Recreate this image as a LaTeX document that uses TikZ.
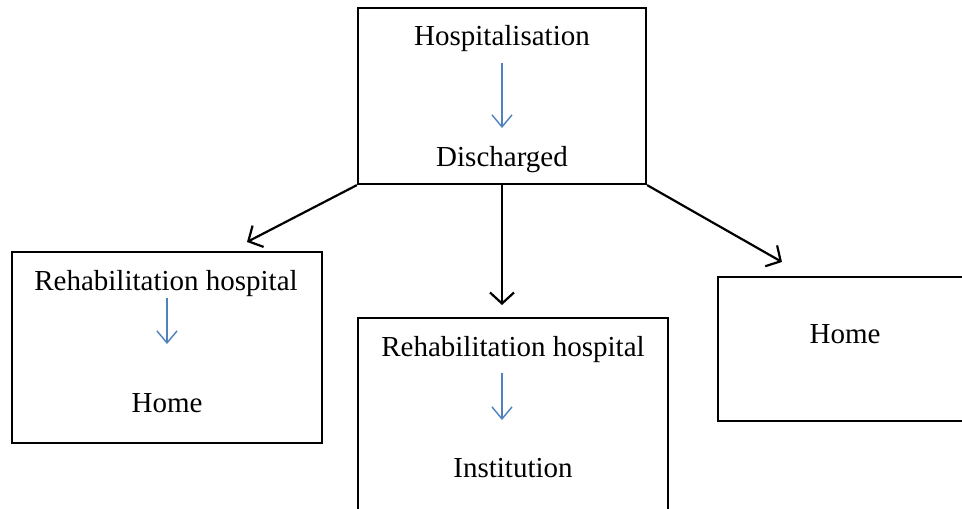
\documentclass[tikz,border=0pt]{standalone}
\usepackage{fontspec}
\setmainfont{Liberation Serif}
\usetikzlibrary{arrows.meta}
\definecolor{officeblue}{HTML}{4F81BD}
\tikzset{
  box/.style={draw=black, line width=2.2pt, rectangle, inner sep=0pt},
  lbl/.style={anchor=base, inner sep=0pt, font=\fontsize{29}{35}\selectfont},
  conn/.style={draw=black, line width=2.2pt, -{Straight Barb[length=11pt,width=24pt,line width=2.2pt]}},
  inner/.style={draw=officeblue, line width=1.4pt, -{Straight Barb[length=12pt,width=20pt,line width=1.4pt]}}
}
\begin{document}
\begin{tikzpicture}[x=1pt,y=-1pt]
\path[fill=white,use as bounding box] (0,0) rectangle (962,509);
% boxes
\node[box, minimum width=288pt, minimum height=176pt] (topbox) at (502,96) {};
\node[box, minimum width=310pt, minimum height=191pt] (leftbox) at (167,347.5) {};
\node[box, minimum width=310pt, minimum height=220pt] (midbox) at (513,428) {};
\node[box, minimum width=246pt, minimum height=144pt] (rightbox) at (841,349) {};
% labels
\node[lbl] (hosp) at (502,45) {Hospitalisation};
\node[lbl] (disch) at (502,166) {Discharged};
\node[lbl] (rehabL) at (166,290) {Rehabilitation hospital};
\node[lbl] (homeL) at (167,412) {Home};
\node[lbl] (rehabM) at (513,356) {Rehabilitation hospital};
\node[lbl] (inst) at (513,477) {Institution};
\node[lbl] (homeR) at (845,343) {Home};
% inner blue arrows
\coordinate (a1) at (502,63);
\coordinate (a2) at (502,128);
\coordinate (b1) at (167,298);
\coordinate (b2) at (167,344);
\coordinate (c1) at (502,373);
\coordinate (c2) at (502,420);
\draw[inner] (a1) -- (a2);
\draw[inner] (b1) -- (b2);
\draw[inner] (c1) -- (c2);
% connectors
\coordinate (tipL) at (247,242);
\coordinate (tipM) at (502,305);
\coordinate (tipR) at (782,262);
\coordinate (midS) at (502,184);
\draw[conn] (topbox.south west) -- (tipL);
\draw[conn] (midS) -- (tipM);
\draw[conn] (topbox.south east) -- (tipR);
\end{tikzpicture}
\end{document}
